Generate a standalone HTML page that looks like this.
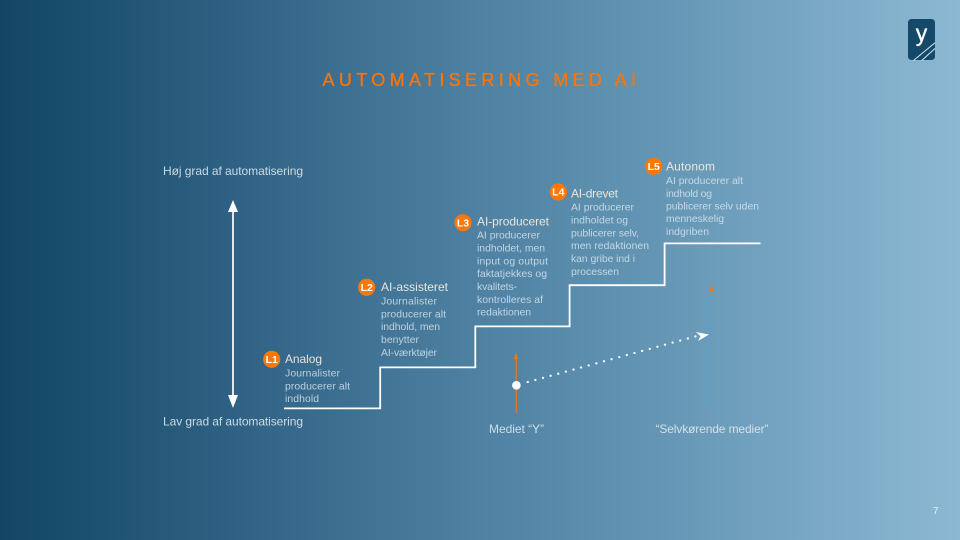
<!DOCTYPE html>
<html lang="da">
<head>
<meta charset="utf-8">
<title>Automatisering med AI</title>
<style>
html,body{margin:0;padding:0;width:960px;height:540px;overflow:hidden;background:#14496a}
svg{display:block}
text{font-family:"Liberation Sans",sans-serif}
.b{font-size:10.4px;fill:#dce8f0;fill-opacity:.8}
.h{font-size:12px;fill:#f6eee0;fill-opacity:.92}
.l{font-size:12px;fill:#e4edf3;fill-opacity:.85}
.n{font-size:10.5px;font-weight:bold;fill:#fff;text-anchor:middle}
</style>
</head>
<body>
<svg xmlns="http://www.w3.org/2000/svg" width="960" height="540" viewBox="0 0 960 540">
<defs>
<linearGradient id="bg" x1="0" y1="0" x2="1" y2="0">
<stop offset="0" stop-color="#124664"/>
<stop offset=".25" stop-color="#2f6284"/>
<stop offset=".5" stop-color="#4e81a2"/>
<stop offset=".75" stop-color="#6c9dbb"/>
<stop offset="1" stop-color="#8db8d3"/>
</linearGradient>
</defs>
<rect width="960" height="540" fill="url(#bg)"/>

<!-- logo -->
<rect x="908" y="19" width="27" height="41" rx="3.5" fill="#14496a"/>
<text x="921.5" y="41" font-size="23" fill="#fff" stroke="#fff" stroke-width=".3" text-anchor="middle">y</text>
<path d="M913.5 60.5L935 42.8M921.7 60.5L935 48.5" stroke="#dce8f0" stroke-width="1" fill="none"/>

<!-- title -->
<text x="322.5" y="86" font-size="18" fill="#f9750a" stroke="#f9750a" stroke-width=".35" textLength="313.5">AUTOMATISERING MED AI</text>

<!-- axis -->
<text class="l" x="163" y="175" textLength="140">Høj grad af automatisering</text>
<text class="l" x="163" y="425.5" textLength="140">Lav grad af automatisering</text>
<path d="M233 208V400" stroke="#fff" stroke-width="1.7" fill="none"/>
<path d="M233 200L238 212H228Z" fill="#fff"/>
<path d="M233 408L238 395H228Z" fill="#fff"/>

<!-- stairs -->
<path d="M284 408.4H380.2V367.4H475.3V326.4H569.6V285.2H664.6V243.4H760.5" stroke="#fff" stroke-width="1.8" fill="none"/>

<!-- L1 -->
<circle cx="271.7" cy="359.3" r="8.6" fill="#fa780a"/>
<text class="n" x="271.7" y="363">L1</text>
<text class="h" x="285" y="363" textLength="37">Analog</text>
<text class="b" x="285" y="376.7" textLength="55">Journalister</text>
<text class="b" x="285" y="389.4" textLength="65">producerer alt</text>
<text class="b" x="285" y="402" textLength="34">indhold</text>

<!-- L2 -->
<circle cx="366.7" cy="287.3" r="8.6" fill="#fa780a"/>
<text class="n" x="366.7" y="291">L2</text>
<text class="h" x="381" y="291" textLength="67">AI-assisteret</text>
<text class="b" x="381" y="304.7" textLength="56">Journalister</text>
<text class="b" x="381" y="317.5" textLength="65">producerer alt</text>
<text class="b" x="381" y="330.2" textLength="59">indhold, men</text>
<text class="b" x="381" y="343" textLength="38">benytter</text>
<text class="b" x="381" y="355.8" textLength="56">AI-værktøjer</text>

<!-- L3 -->
<circle cx="463" cy="222.7" r="8.6" fill="#fa780a"/>
<text class="n" x="463" y="226.4">L3</text>
<text class="h" x="477" y="225.7" textLength="72">AI-produceret</text>
<text class="b" x="477" y="238.7" textLength="63">AI producerer</text>
<text class="b" x="477" y="251.5" textLength="68">indholdet, men</text>
<text class="b" x="477" y="264.3" textLength="71">input og output</text>
<text class="b" x="477" y="277" textLength="70">faktatjekkes og</text>
<text class="b" x="477" y="290" textLength="40">kvalitets-</text>
<text class="b" x="477" y="302.8" textLength="66">kontrolleres af</text>
<text class="b" x="477" y="315.6" textLength="54">redaktionen</text>

<!-- L4 -->
<circle cx="558.3" cy="192" r="8.6" fill="#fa780a"/>
<text class="n" x="558.3" y="195.7">L4</text>
<text class="h" x="571" y="197.3" textLength="47">AI-drevet</text>
<text class="b" x="571" y="210.7" textLength="63">AI producerer</text>
<text class="b" x="571" y="223.5" textLength="57">indholdet og</text>
<text class="b" x="571" y="236.3" textLength="68">publicerer selv,</text>
<text class="b" x="571" y="249.1" textLength="78">men redaktionen</text>
<text class="b" x="571" y="262" textLength="64">kan gribe ind i</text>
<text class="b" x="571" y="274.8" textLength="48">processen</text>

<!-- L5 -->
<circle cx="653.7" cy="166.3" r="8.6" fill="#fa780a"/>
<text class="n" x="653.7" y="170">L5</text>
<text class="h" x="666" y="170.7" textLength="49">Autonom</text>
<text class="b" x="666" y="184" textLength="77">AI producerer alt</text>
<text class="b" x="666" y="196.8" textLength="46">indhold og</text>
<text class="b" x="666" y="209.5" textLength="93">publicerer selv uden</text>
<text class="b" x="666" y="222.2" textLength="58">menneskelig</text>
<text class="b" x="666" y="235" textLength="43">indgriben</text>

<!-- orange arrows -->
<path d="M516.3 413V357" stroke="#f4760f" stroke-width="1.1" fill="none"/>
<path d="M516 352.5L518.3 359H513.7Z" fill="#f4760f"/>
<path d="M711.5 412V289" stroke="#f4760f" stroke-width="0.9" fill="none"/>
<path d="M711.5 284.5L714 291H709Z" fill="#f4760f"/>

<!-- dotted trajectory -->
<path d="M527.7 382L698 335.7" stroke="#fff" stroke-width="2.2" stroke-linecap="round" stroke-dasharray="0.1 7.8" fill="none"/>
<circle cx="516.4" cy="385.3" r="4.3" fill="#fff"/>
<path d="M696 332L709 334.5L698 341L700.5 336.4Z" fill="#fff"/>

<!-- bottom labels -->
<text class="l" x="489" y="433" textLength="55">Mediet “Y”</text>
<text class="l" x="655.5" y="433" textLength="113">“Selvkørende medier”</text>

<!-- page number -->
<text x="933" y="514" font-size="10" fill="#e6f0f6">7</text>
</svg>
</body>
</html>
